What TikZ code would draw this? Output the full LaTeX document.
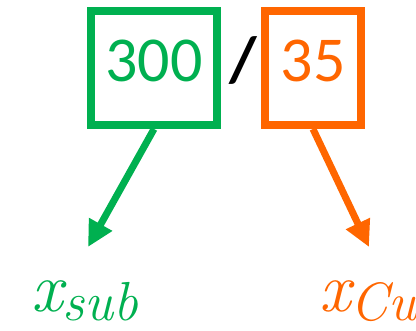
\documentclass[tikz,border=0pt]{standalone}
\usepackage{fontspec}
\newfontfamily\carlito{Carlito}
\usetikzlibrary{arrows.meta}
\definecolor{cgreen}{HTML}{00B050}
\definecolor{corange}{HTML}{FF6600}
\tikzset{
  numbox/.style={draw=#1, text=#1, line width=8pt, minimum height=114pt, inner sep=0pt, text depth=14pt, font=\carlito\fontsize{64}{66}\selectfont},
  bigarrow/.style={draw=#1, line width=7pt, -{Triangle[length=26pt,width=25pt]}},
  varlabel/.style={text=#1, inner sep=0pt, anchor=base west, font=\itshape}
}
\begin{document}
\begin{tikzpicture}[x=1pt,y=-1pt]
\useasboundingbox (0,0) rectangle (416,331);
\node[numbox=cgreen, minimum width=126pt] (g) at (154,68) {300};
\node[numbox=corange, minimum width=96pt] (o) at (313,68) {35};
\node[font=\carlito\fontsize{64}{66}\selectfont\bfseries, inner sep=0pt] (sl) at (243.5,61) {/};
\coordinate (gt) at (88,247);
\coordinate (ot) at (369,247);
\draw[bigarrow=cgreen] (g.south) -- (gt);
\draw[bigarrow=corange] (o.south) -- (ot);
\node[varlabel=cgreen] (xs) at (31,312) {\fontsize{70}{72}\selectfont x\raisebox{-9pt}{\fontsize{55}{60}\selectfont sub}};
\node[varlabel=corange] (xc) at (319,312) {\fontsize{70}{72}\selectfont x\raisebox{-9pt}{\fontsize{54}{60}\selectfont Cu}};
\end{tikzpicture}
\end{document}
